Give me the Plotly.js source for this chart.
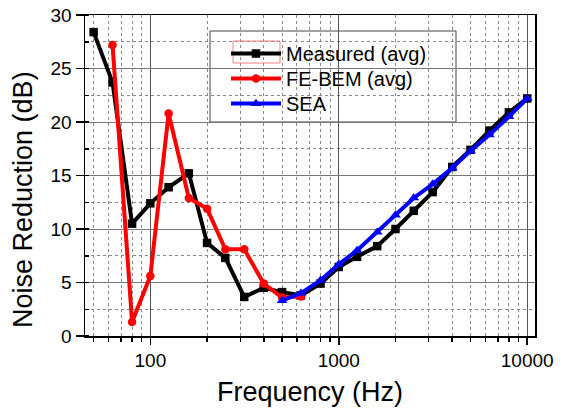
<!DOCTYPE html>
<html><head><meta charset="utf-8">
<script src="https://cdn.plot.ly/plotly-3.0.1.min.js"></script>
<style>body{margin:0;background:#fff}#c{width:570px;height:410px}</style>
</head><body><div id="c"></div>
<script>
const measFreq = [50,63,80,100,125,160,200,250,315,400,500,630,800,1000,1250,1600,2000,2500,3150,4000,5000,6300,8000,10000];
const measVal  = [28.4,23.7,10.5,12.4,13.9,15.2,8.7,7.3,3.65,4.5,4.1,3.8,4.9,6.45,7.4,8.4,10.0,11.7,13.45,15.8,17.4,19.2,20.9,22.2];
const febemFreq = [63,80,100,125,160,200,250,315,400,500,630];
const febemVal  = [27.2,1.3,5.6,20.8,12.9,11.9,8.1,8.1,4.9,3.6,3.7];
const seaFreq = [500,630,800,1000,1250,1600,2000,2500,3150,4000,5000,6300,8000,10000];
const seaVal  = [3.3,4.0,5.2,6.7,8.0,9.7,11.3,12.9,14.2,15.7,17.3,18.8,20.5,22.2];
const seriesNames = ['Measured (avg)','FE-BEM (avg)','SEA'];
const xTickVals = [100,1000,10000];
const xTickText = ['100','1000','10000'];
const xMinorVals = [50,60,70,80,90,200,300,400,500,600,700,800,900,2000,3000,4000,5000,6000,7000,8000,9000];
const yTickVals = [0,5,10,15,20,25,30];

const W=570,H=410,L=85,R=35,T=15,B=74;
const pw=W-L-R, ph=H-T-B;
const px=v=>(v-L)/pw, py=v=>(H-B-v)/ph;

const traces = [
 {x: measFreq, y: measVal, name: seriesNames[0], legend:'legend', mode:'lines+markers', line:{color:'#000',width:4}, marker:{symbol:'square',size:8.5,color:'#000'}},
 {x: febemFreq, y: febemVal, name: seriesNames[1], legend:'legend2', mode:'lines+markers', line:{color:'#ff0000',width:4}, marker:{symbol:'circle',size:8.5,color:'#ff0000'}},
 {x: seaFreq, y: seaVal, name: seriesNames[2], legend:'legend3', mode:'lines+markers', line:{color:'#0000ff',width:4}, marker:{symbol:'triangle-up',size:9.5,color:'#0000ff'}}
];
const legBase = {xanchor:'left', yanchor:'top', borderwidth:0, bgcolor:'rgba(0,0,0,0)', font:{size:20}, itemwidth:50};
const layout = {
 width:W, height:H,
 margin:{l:L, r:R, t:T, b:B},
 paper_bgcolor:'#fff', plot_bgcolor:'#fff',
 font:{family:'Liberation Sans, Arial, sans-serif', color:'#000'},
 showlegend:true,
 legend: Object.assign({x:px(226), y:py(34)}, legBase),
 legend2: Object.assign({x:px(226), y:py(59)}, legBase),
 legend3: Object.assign({x:px(226), y:py(84)}, legBase),
 xaxis:{type:'log', range:[Math.log10(45), Math.log10(11000)], tickvals:xTickVals, ticktext:xTickText,
   ticks:'outside', ticklen:7, tickcolor:'#000', tickwidth:1.5, tickfont:{size:19},
   showline:true, linecolor:'#000', linewidth:1.5, mirror:true,
   showgrid:true, gridcolor:'#555', gridwidth:1, zeroline:false,
   minor:{tickvals:xMinorVals, ticks:'outside', ticklen:4, tickcolor:'#000', showgrid:true, gridcolor:'#888', griddash:'dot', gridwidth:1}},
 yaxis:{range:[0,30], tickvals:yTickVals, ticks:'outside', ticklen:8, tickcolor:'#000', tickwidth:1.5, tickfont:{size:19},
   showline:true, linecolor:'#000', linewidth:1.5, mirror:true,
   showgrid:true, gridcolor:'#777', gridwidth:1, zeroline:false,
   minor:{dtick:2.5, ticks:'inside', ticklen:4, tickcolor:'#000', showgrid:true, gridcolor:'#888', griddash:'dot', gridwidth:1}},
 annotations:[
  {text:'Frequency (Hz)', xref:'paper', yref:'paper', x:px(310), y:py(392), xanchor:'center', yanchor:'middle', showarrow:false, font:{size:27}},
  {text:'Noise Reduction (dB)', xref:'paper', yref:'paper', x:px(23), y:py(200), xanchor:'center', yanchor:'middle', textangle:-90, showarrow:false, font:{size:27}}
 ],
 shapes:[
  {type:'rect', xref:'paper', yref:'paper', x0:px(210), x1:px(456), y0:py(31), y1:py(122), line:{color:'#444', width:1}, fillcolor:'#fff', layer:'between'},
  {type:'rect', xref:'paper', yref:'paper', x0:px(233), x1:px(280), y0:py(41), y1:py(63), line:{color:'#f08080', width:1}, fillcolor:'rgba(0,0,0,0)', layer:'above'}
 ]
};
Plotly.newPlot('c', traces, layout, {displayModeBar:false, staticPlot:true});
</script></body></html>
